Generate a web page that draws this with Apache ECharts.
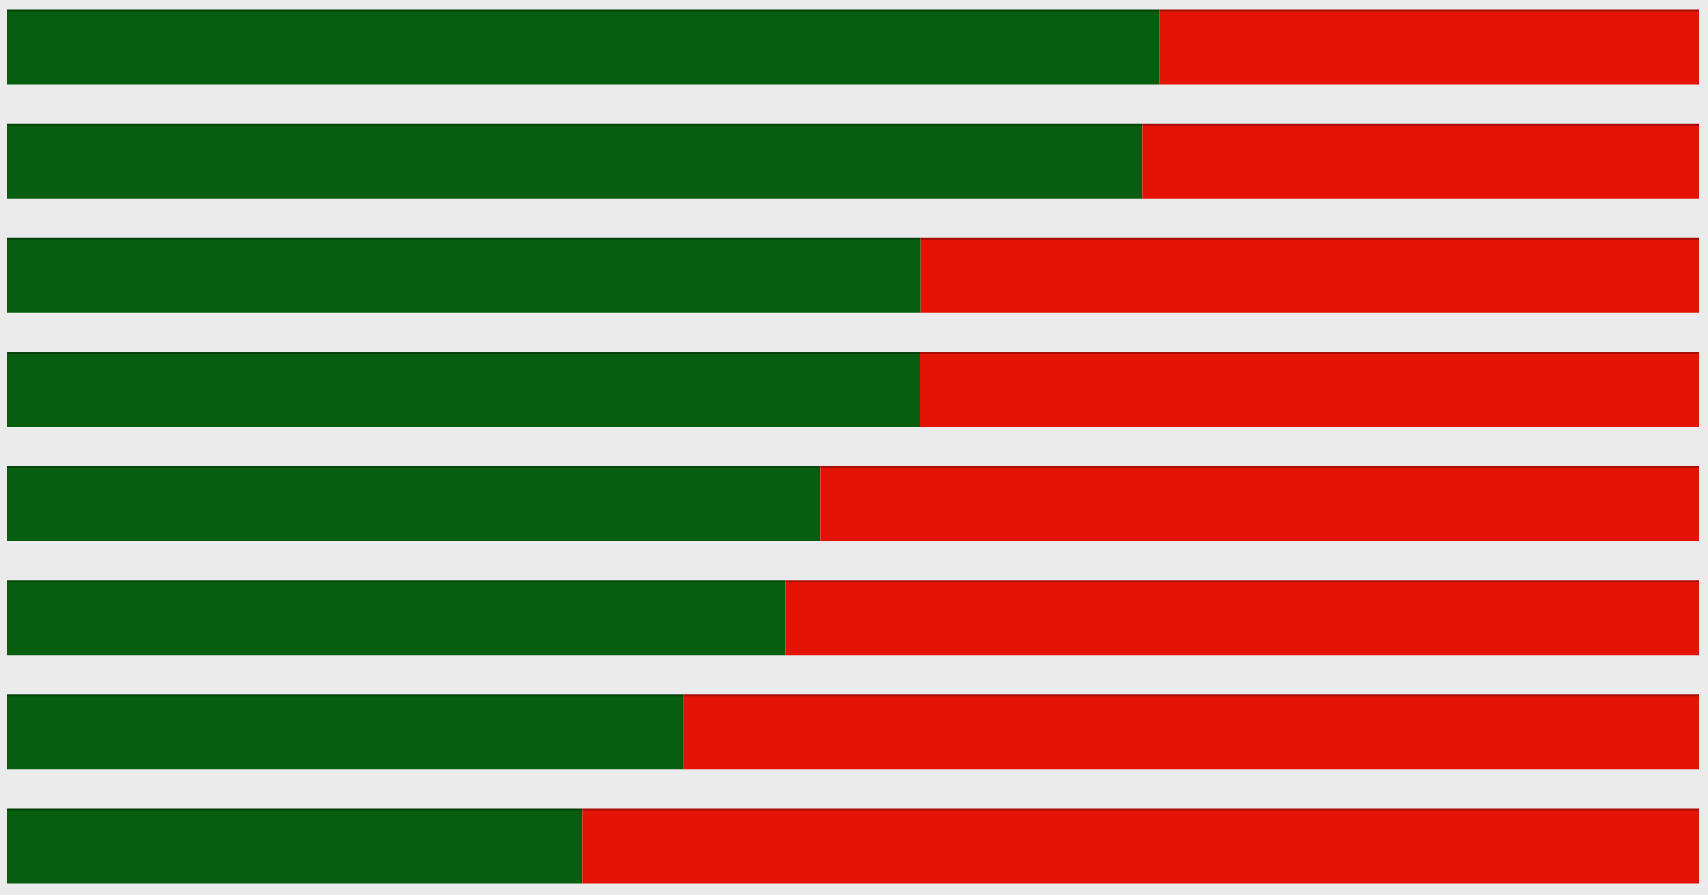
<!DOCTYPE html>
<html>
<head>
<meta charset="utf-8">
<script src="https://cdn.jsdelivr.net/npm/echarts@6/dist/echarts.min.js"></script>
<style>
html,body{margin:0;padding:0;background:#ebebeb;}
#chart{width:1708px;height:895px;}
</style>
</head>
<body>
<div id="chart"></div>
<script>
const categories = ['A','B','C','D','E','F','G','H'];
const greenValues = [68.1, 67.1, 54.0, 53.96, 48.07, 46.0, 40.0, 34.0];
const redValues = greenValues.map(v => +(100 - v).toFixed(2));

function edged(dark, base) {
  return new echarts.graphic.LinearGradient(0, 0, 0, 1, [
    {offset: 0, color: dark},
    {offset: 0.025, color: dark},
    {offset: 0.03, color: base},
    {offset: 1, color: base}
  ]);
}

const chart = echarts.init(document.getElementById('chart'));
chart.setOption({
  backgroundColor:'#ebebeb',
  animation:false,
  grid:{left:7, right:9, top:47, bottom:49, containLabel:false},
  xAxis:{type:'value', min:0, max:100, show:false},
  yAxis:{type:'category', data:categories, inverse:true, show:false, boundaryGap:false},
  series:[
    {type:'bar', stack:'s', data:greenValues, barWidth:75, clip:false, itemStyle:{color:edged('#03440b', '#075e10')}},
    {type:'bar', stack:'s', data:redValues, barWidth:75, clip:false, itemStyle:{color:edged('#a80e04', '#e31405')}}
  ]
});
</script>
</body>
</html>
